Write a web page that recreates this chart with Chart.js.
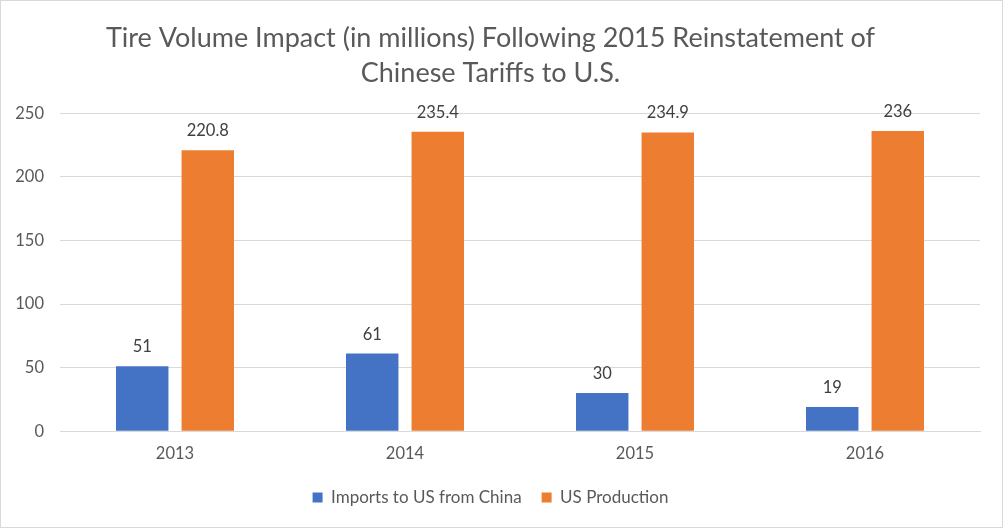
<!DOCTYPE html>
<html>
<head>
<meta charset="utf-8">
<script src="https://cdn.jsdelivr.net/npm/chart.js@4.4.1/dist/chart.umd.min.js"></script>
<style>
  html, body { margin: 0; padding: 0; background: #fff; }
  .chart-box {
    width: 1003px; height: 528px; box-sizing: border-box;
    border: 1px solid #d9d9d9; position: relative;
  }
</style>
</head>
<body>
<div class="chart-box">
  <canvas id="tireChart"></canvas>
</div>
<script>
const years = ["2013", "2014", "2015", "2016"];
const importsFromChina = [51, 61, 30, 19];
const usProduction = [220.8, 235.4, 234.9, 236];
const yTicks = [0, 50, 100, 150, 200, 250];

const FONT = "Lato, 'Open Sans', sans-serif";
const TEXT_GREY = "#595959";

// draws the value above each bar, like Excel data labels
const barLabels = {
  id: "barLabels",
  afterDatasetsDraw(chart) {
    const ctx = chart.ctx;
    ctx.save();
    ctx.font = "16.5px " + FONT;
    ctx.fillStyle = "#404040";
    ctx.textAlign = "center";
    ctx.textBaseline = "alphabetic";
    chart.data.datasets.forEach((ds, i) => {
      chart.getDatasetMeta(i).data.forEach((bar, j) => {
        ctx.fillText(String(ds.data[j]), bar.x, bar.y - 14);
      });
    });
    ctx.restore();
  }
};

const ctx = document.getElementById("tireChart").getContext("2d");
new Chart(ctx, {
  type: "bar",
  data: {
    labels: years,
    datasets: [
      {
        label: "Imports to US from China",
        data: importsFromChina,
        backgroundColor: "#4472c4",
        categoryPercentage: 0.57,
        barPercentage: 0.8
      },
      {
        label: "US Production",
        data: usProduction,
        backgroundColor: "#ed7d31",
        categoryPercentage: 0.57,
        barPercentage: 0.8
      }
    ]
  },
  options: {
    responsive: true,
    maintainAspectRatio: false,
    animation: false,
    layout: { padding: { left: 0, right: 22, top: 10, bottom: 11 } },
    plugins: {
      title: {
        display: true,
        text: ["Tire Volume Impact (in millions) Following 2015 Reinstatement of", "Chinese Tariffs to U.S."],
        color: TEXT_GREY,
        font: { family: FONT, size: 27, weight: "normal", lineHeight: 1.3 },
        padding: { top: 10, bottom: 22 }
      },
      legend: {
        position: "bottom",
        labels: {
          color: TEXT_GREY,
          font: { family: FONT, size: 17 },
          boxWidth: 10,
          boxHeight: 10,
          padding: 20
        }
      },
      tooltip: { enabled: false }
    },
    scales: {
      x: {
        grid: { display: false },
        border: { color: "#d9d9d9" },
        ticks: { color: TEXT_GREY, font: { family: FONT, size: 16.5 }, padding: 5 }
      },
      y: {
        min: 0,
        max: 250,
        afterBuildTicks(scale) {
          scale.ticks = yTicks.map(v => ({ value: v }));
        },
        afterFit(scale) {
          scale.width = 59;
        },
        grid: { color: "#d9d9d9", drawTicks: false },
        border: { display: false },
        ticks: { color: TEXT_GREY, font: { family: FONT, size: 16.5 }, padding: 16 }
      }
    }
  },
  plugins: [barLabels]
});
</script>
</body>
</html>
